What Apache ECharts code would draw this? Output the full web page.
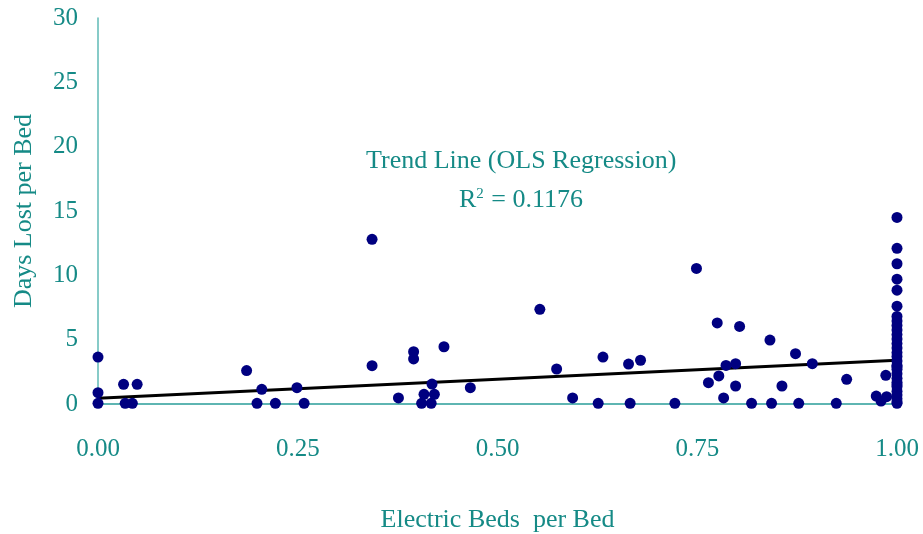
<!DOCTYPE html>
<html>
<head>
<meta charset="utf-8">
<script src="https://cdn.jsdelivr.net/npm/echarts@6/dist/echarts.min.js"></script>
<style>html,body{margin:0;padding:0;background:#fff;}#c{width:923px;height:534px;}</style>
</head>
<body>
<div id="c"></div>
<script>
// Scatter points: Electric Beds per Bed (x) vs Days Lost per Bed (y)
const xValues = [
  0, 0, 0, 0.032, 0.049, 0.034, 0.043, 0.186, 0.205, 0.199, 0.222, 0.249, 0.258,
  0.343, 0.343, 0.376, 0.395, 0.395, 0.433, 0.418, 0.408, 0.421, 0.405, 0.417, 0.466,
  0.553, 0.574, 0.594,
  0.632, 0.626, 0.664, 0.679, 0.666, 0.722, 0.749, 0.775, 0.803, 0.764, 0.777, 0.786,
  0.798, 0.798, 0.783, 0.818, 0.841, 0.843, 0.856, 0.873, 0.894, 0.877,
  0.937, 0.924, 0.986, 0.974, 0.980, 0.987,
  1, 1, 1, 1, 1, 1, 1, 1, 1, 1, 1, 1, 1, 1, 1, 1, 1, 1, 1, 1, 1, 1, 1, 1, 1, 1, 1, 1, 1, 1
];
const yValues = [
  3.65, 0.88, 0.05, 1.53, 1.53, 0.05, 0.05, 2.6, 1.14, 0.05, 0.05, 1.27, 0.05,
  12.8, 2.98, 0.47, 4.06, 3.5, 4.45, 1.55, 0.75, 0.75, 0.05, 0.05, 1.27,
  7.36, 2.72, 0.47,
  3.65, 0.05, 3.1, 3.4, 0.05, 0.05, 10.54, 6.3, 6.03, 1.66, 2.18, 3.0,
  3.13, 1.4, 0.47, 0.05, 4.97, 0.05, 1.4, 3.91, 3.13, 0.05,
  1.92, 0.05, 2.23, 0.62, 0.23, 0.57,
  14.5, 12.1, 10.9, 9.7, 8.85, 7.6, 6.8, 6.45, 6.1, 5.75, 5.4, 5.05, 4.7, 4.35, 4.0,
  3.7, 3.35, 3.0, 2.7, 2.35, 2.0, 1.7, 1.35, 1.0, 0.7, 0.4, 0.15, 0.05, 2.9, 1.5
];
// OLS trend line end points
const trendX = [0, 1];
const trendY = [0.45, 3.4];
const xTicks = [0, 0.25, 0.5, 0.75, 1];
const yTicks = [0, 5, 10, 15, 20, 25, 30];

const teal = '#158a86';
const font = '"Liberation Serif", "DejaVu Serif", serif';

const scatterData = xValues.map((x, i) => [x, yValues[i]]);
const trendData = trendX.map((x, i) => [x, trendY[i]]);

const chart = echarts.init(document.getElementById('c'), null, {renderer: 'canvas'});
chart.setOption({
  animation: false,
  backgroundColor: '#ffffff',
  grid: {left: 98, right: 26, top: 18, bottom: 130, containLabel: false, outerBoundsMode: 'none'},
  textStyle: {fontFamily: font},
  xAxis: {
    type: 'value', min: xTicks[0], max: xTicks[xTicks.length - 1], interval: 0.25,
    name: 'Electric Beds  per Bed', nameLocation: 'middle', nameGap: 103,
    nameTextStyle: {color: teal, fontSize: 26, fontFamily: font},
    axisLine: {show: true, onZero: true, lineStyle: {color: '#2a9d99', width: 1.5}},
    axisTick: {show: false},
    splitLine: {show: false},
    axisLabel: {color: teal, fontSize: 25, fontFamily: font, margin: 33,
      formatter: v => v.toFixed(2)}
  },
  yAxis: {
    type: 'value', min: yTicks[0], max: yTicks[yTicks.length - 1], interval: 5,
    name: 'Days Lost per Bed', nameLocation: 'middle', nameGap: 61,
    nameTextStyle: {color: teal, fontSize: 26, fontFamily: font},
    axisLine: {show: true, lineStyle: {color: '#5fbab6', width: 1.5}},
    axisTick: {show: false},
    splitLine: {show: false},
    axisLabel: {color: teal, fontSize: 25, fontFamily: font, margin: 20}
  },
  series: [
    {
      type: 'line', data: trendData, showSymbol: false, symbol: 'none',
      lineStyle: {color: '#000000', width: 3}, z: 3, silent: true
    },
    {
      type: 'scatter', data: scatterData, symbolSize: 11,
      itemStyle: {color: '#000080', opacity: 1}, z: 4
    }
  ],
  graphic: [
    {type: 'text', left: 366, top: 148, style: {
      text: 'Trend Line (OLS Regression)', fill: teal, fontSize: 26, fontFamily: font}},
    {type: 'text', top: 187, left: 459, style: {
      fill: teal,
      rich: {n: {fontSize: 26, fontFamily: font, fill: teal, color: teal},
             s: {fontSize: 15, fontFamily: font, fill: teal, color: teal, verticalAlign: 'top', padding: [0,1,12,0]}},
      text: '{n|R}{s|2}{n| = 0.1176}'}}
  ]
});
</script>
</body>
</html>
